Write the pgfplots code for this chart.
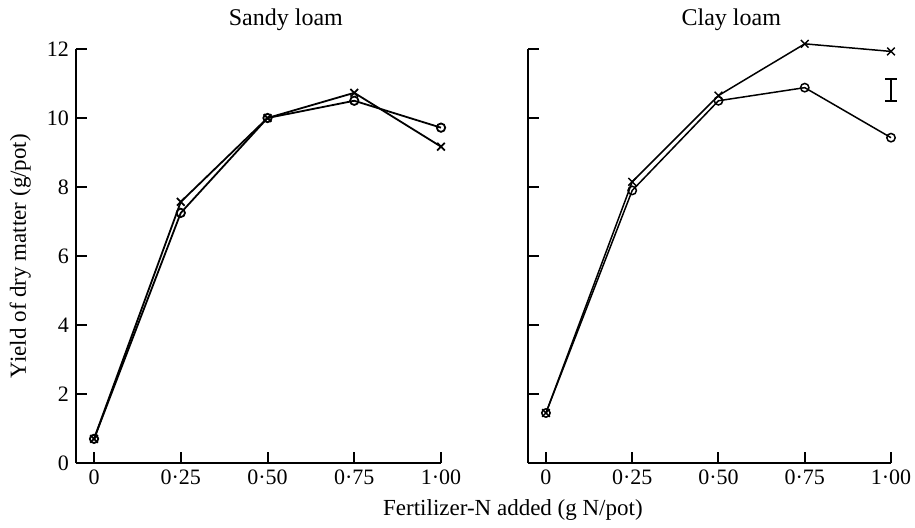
\documentclass[border=0pt]{standalone}
\usepackage{fontspec}
\setmainfont{Liberation Serif}
\usepackage{pgfplots}
\pgfplotsset{compat=1.18}

\pgfplotsset{
  soil/.style={
    scale only axis, width=182.5pt, height=207pt,
    xmin=-0.052, xmax=1.0, ymin=0, ymax=12,
    axis x line=bottom, axis y line=left,
    axis line style={-, line width=1pt},
    tick align=inside, major tick length=5.5pt,
    every tick/.style={black, line width=1pt},
    xtick={0,0.25,0.5,0.75,1},
    xticklabels={0,0·25,0·50,0·75,1·00},
    ytick={0,2,...,12},
    tick label style={font=\fontsize{11}{13}\selectfont},
    /pgf/number format/assume math mode=true,
    clip=false,
    title style={anchor=base, font=\fontsize{12}{14}\selectfont, yshift=6pt},
  },
  circ/.style={black, line width=0.9pt, mark=o, mark size=2.1pt,
               mark options={fill=white, solid}},
  crs/.style={black, line width=0.9pt, mark=x, mark size=2.7pt},
}

\begin{document}
\begin{tikzpicture}
\path[use as bounding box] (-38pt,-32pt) rectangle (419.5pt,231.5pt);

% sandy loam
\begin{axis}[soil,
    title={Sandy loam},
    title style={at={(axis description cs:0.575,1)}},
    ylabel={Yield of dry matter (g/pot)},
    ylabel style={at={(axis description cs:-0.153,0.5)}, anchor=center,
                  font=\fontsize{11.5}{13}\selectfont},
    xlabel={Fertilizer-N added (g N/pot)},
    xlabel style={at={(axis description cs:1.197,0)}, anchor=center,
                  yshift=-23.5pt, font=\fontsize{11.5}{13}\selectfont},
]
\addplot[circ] coordinates {(0,0.7)(0.25,7.25)(0.5,10.0)(0.75,10.5)(1,9.72)};
\addplot[crs]  coordinates {(0,0.7)(0.25,7.57)(0.5,10.0)(0.75,10.73)(1,9.17)};
\end{axis}

% clay loam
\begin{axis}[soil, at={(226pt,0pt)}, width=181.5pt,
    title={Clay loam},
    title style={at={(axis description cs:0.56,1)}},
    yticklabels={},
]
\addplot[circ, line width=0.75pt] coordinates {(0,1.45)(0.25,7.9)(0.5,10.5)(0.75,10.88)(1,9.43)};
\addplot[crs, line width=0.75pt]  coordinates {(0,1.45)(0.25,8.15)(0.5,10.65)(0.75,12.15)(1,11.93)};
% error bar (I-shape)
\addplot[black, line width=0.9pt, mark=none] coordinates {(1,10.49)(1,11.13)};
\addplot[black, line width=0.9pt, mark=none] coordinates {(0.984,10.49)(1.016,10.49)};
\addplot[black, line width=0.9pt, mark=none] coordinates {(0.984,11.13)(1.016,11.13)};
\end{axis}
\end{tikzpicture}
\end{document}
